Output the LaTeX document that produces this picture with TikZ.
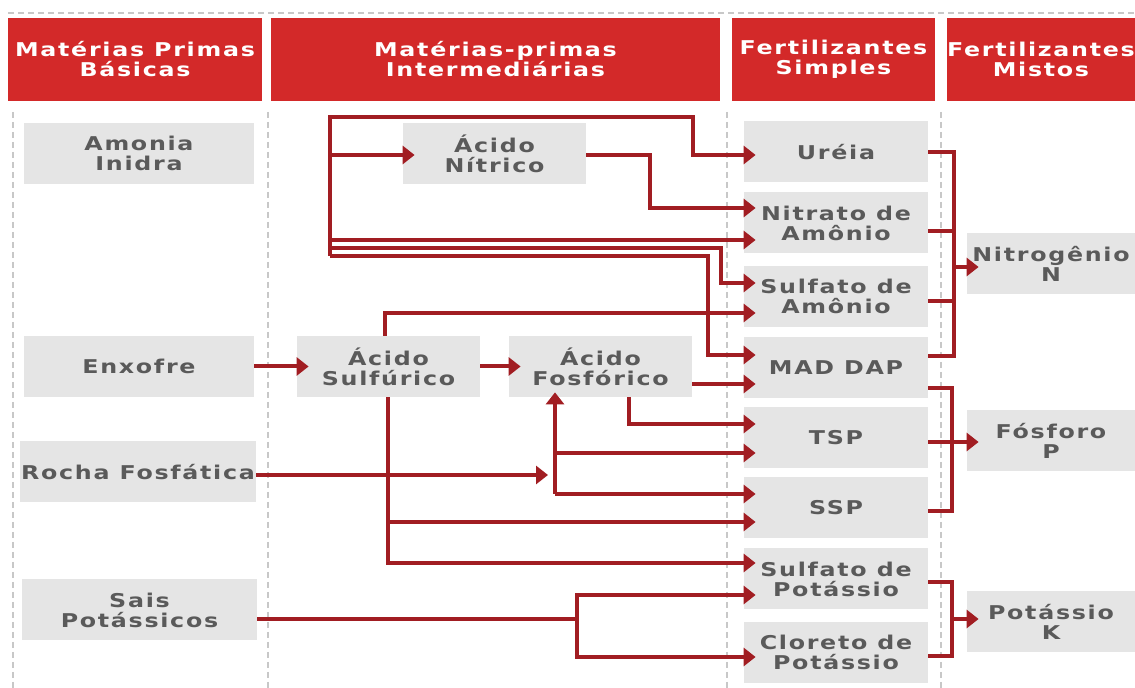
\documentclass[tikz,border=0pt]{standalone}
\usepackage{fontspec}
\usepackage{tikz}
\usetikzlibrary{arrows.meta}
\newfontfamily\diagfont[LetterSpace=9,FakeStretch=1.25]{DejaVu Sans}
\definecolor{headred}{RGB}{211,41,41}
\definecolor{linkred}{RGB}{161,29,34}
\definecolor{boxgray}{RGB}{229,229,229}
\definecolor{textgray}{RGB}{90,90,90}
\definecolor{sepgray}{RGB}{200,200,200}

\tikzset{
  head/.style={fill=headred, text=white, minimum height=41.5pt, inner sep=0pt,
    align=center, font=\diagfont\bfseries\fontsize{9.5pt}{10pt}\selectfont},
  box/.style={fill=boxgray, text=textgray, minimum height=30.5pt, inner sep=0pt,
    align=center, font=\diagfont\bfseries\fontsize{9.5pt}{10pt}\selectfont},
  wire/.style={draw=linkred, line width=2pt},
  link/.style={wire, -{Triangle[length=6pt,width=9pt]}, shorten >=-6pt},
  sep/.style={draw=sepgray, line width=0.75pt, dash pattern=on 3pt off 2pt}
}

\begin{document}
\begin{tikzpicture}[x=0.5pt,y=-0.5pt]
\useasboundingbox (0,0) rectangle (1135,688);

% Separators
\draw[sep] (8,13) -- (1135,13);
\foreach \x in {13,268,727,941}
  \draw[sep] (\x,112) -- (\x,688);

% Headers
\node[head, minimum width=127pt] (hbasic) at (135,59.5) {Matérias Primas\\Básicas};
\node[head, minimum width=224.5pt] (hinter) at (495.5,59.5) {Matérias-primas\\Intermediárias};
\node[head, minimum width=101.5pt] (hsimple) at (833.5,59.5) {Fertilizantes\\Simples};
\node[head, minimum width=94pt] (hmixed) at (1041,59.5) {Fertilizantes\\Mistos};

% Basic raw materials
\node[box, minimum width=115pt] (amonia) at (139,153.5) {Amonia\\Inidra};
\node[box, minimum width=115pt] (enxofre) at (139,366.5) {Enxofre};
\node[box, minimum width=118pt] (rocha) at (138,472) {Rocha Fosfática};
\node[box, minimum width=117.5pt] (sais) at (139.5,610) {Sais\\Potássicos};

% Intermediate raw materials
\node[box, minimum width=91.5pt] (nitrico) at (494.5,153.5) {Ácido\\Nítrico};
\node[box, minimum width=91.5pt] (sulfurico) at (388.5,366.5) {Ácido\\Sulfúrico};
\node[box, minimum width=91.5pt] (fosforico) at (600.5,366.5) {Ácido\\Fosfórico};

% Simple fertilizers
\node[box, minimum width=92pt] (urea) at (836,152) {Uréia};
\node[box, minimum width=92pt] (nitrato) at (836,223) {Nitrato de\\Amônio};
\node[box, minimum width=92pt] (sulfam) at (836,296.5) {Sulfato de\\Amônio};
\node[box, minimum width=92pt] (mad) at (836,368) {MAD DAP};
\node[box, minimum width=92pt] (tsp) at (836,437.5) {TSP};
\node[box, minimum width=92pt] (ssp) at (836,507.5) {SSP};
\node[box, minimum width=92pt] (sulfk) at (836,579) {Sulfato de\\Potássio};
\node[box, minimum width=92pt] (cloreto) at (836,652.5) {Cloreto de\\Potássio};

% Mixed fertilizers
\node[box, minimum width=84pt] (nitrogenio) at (1051,264) {Nitrogênio\\N};
\node[box, minimum width=84pt] (fosforo) at (1051,441) {Fósforo\\P};
\node[box, minimum width=84pt] (potassio) at (1051,621.5) {Potássio\\K};

% Ammonia bus
\coordinate (bustop) at (330,117);
\coordinate (busbot) at (330,256);
\draw[link] (busbot) -- (bustop) -- (693,117) |- (urea.west |- 0,155);
\draw[link] (bustop |- 0,155) -- (nitrico.west |- 0,155);
\draw[link] (nitrico.east |- 0,155) -| (650,208) -- (nitrato.west |- 0,208);
\draw[link] (bustop |- 0,240) -- (nitrato.west |- 0,240);
\draw[link] (bustop |- 0,248) -| (721,283) -- (sulfam.west |- 0,283);
\draw[link] (busbot) -| (708,355) -- (mad.west |- 0,355);

% Sulphur and phosphate
\draw[link] (enxofre.east) -- (sulfurico.west);
\draw[link] (sulfurico.east) -- (fosforico.west);
\draw[link] (sulfurico.north -| 385,0) |- (sulfam.west |- 0,313);
\draw[link] (fosforico.east |- 0,384) -- (mad.west |- 0,384);
\draw[link] (fosforico.south -| 629,0) |- (tsp.west |- 0,424);
\coordinate (hub) at (555,494);
\coordinate (rochaend) at (548,475);
\draw[link, shorten >=-2.5pt] (hub) -- (hub |- fosforico.south);
\draw[link] (hub |- 0,453) -- (tsp.west |- 0,453);
\draw[link] (hub) -- (ssp.west |- hub);
\draw[link, shorten >=0pt] (rocha.east |- rochaend) -- (rochaend);
\coordinate (sbranch) at (388,522);
\draw[link] (sulfurico.south -| sbranch) |- (sulfk.west |- 0,563);
\draw[link] (sbranch) -- (ssp.west |- sbranch);

% Potash
\coordinate (ksplit) at (577,619);
\draw[wire] (sais.east |- ksplit) -- (ksplit);
\draw[link] (ksplit) |- (sulfk.west |- 0,595);
\draw[link] (ksplit) |- (cloreto.west |- 0,657);

% Brackets to mixed fertilizers
\draw[wire] (urea.east) -| (954,356) -- (mad.east |- 0,356);
\draw[wire] (nitrato.east |- 0,231) -- (954,231);
\draw[wire] (sulfam.east |- 0,301) -- (954,301);
\draw[link] (954,267) -- (nitrogenio.west |- 0,267);
\draw[wire] (mad.east |- 0,388) -| (952,511) -- (ssp.east |- 0,511);
\draw[link] (tsp.east |- 0,442) -- (fosforo.west |- 0,442);
\draw[wire] (sulfk.east |- 0,582) -| (952,656) -- (cloreto.east |- 0,656);
\draw[link] (952,619) -- (potassio.west |- 0,619);
\end{tikzpicture}
\end{document}
